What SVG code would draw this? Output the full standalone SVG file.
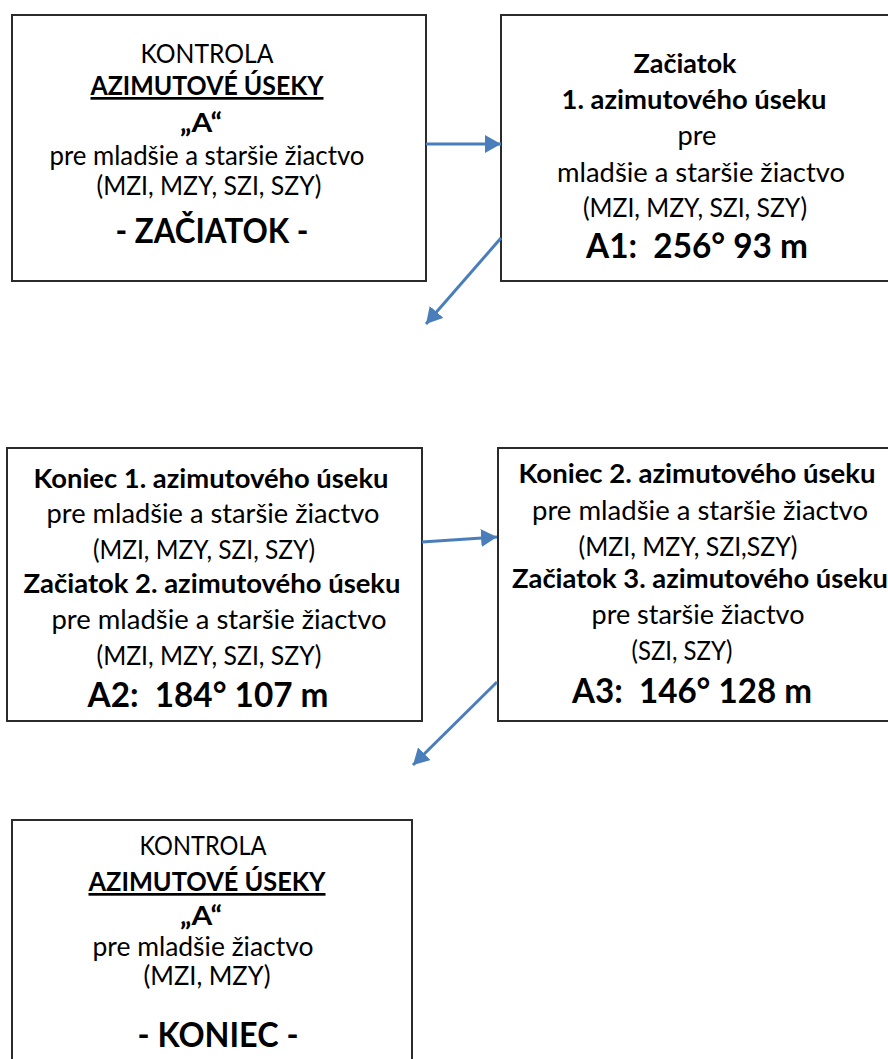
<svg xmlns="http://www.w3.org/2000/svg" width="888" height="1059" viewBox="0 0 888 1059">
<style>
.box{fill:#fff;stroke:#2b2b2b;stroke-width:2}
text{font-family:Lato,"Open Sans","Liberation Sans",sans-serif;fill:#000;text-anchor:middle}
.r{font-size:26.5px}
.b{font-size:27px;font-weight:bold}
.big{font-size:34px;font-weight:bold}
.u{text-decoration:underline}
.conn{stroke:#4a7ebb;stroke-width:3;fill:none;marker-end:url(#ah)}
</style>
<defs>
<marker id="ah" markerUnits="userSpaceOnUse" markerWidth="17" markerHeight="18" refX="16" refY="9" orient="auto">
<path d="M0,0 L16,9 L0,18 Z" fill="#4a7ebb"/>
</marker>
</defs>
<rect width="888" height="1059" fill="#fff"/>
<g id="n1">
<rect class="box" x="12" y="15" width="414" height="266"/>
<text class="r" x="207" y="63" textLength="133" lengthAdjust="spacingAndGlyphs">KONTROLA</text>
<text class="b u" x="207" y="95" textLength="233" lengthAdjust="spacingAndGlyphs">AZIMUTOVÉ ÚSEKY</text>
<text class="b" x="201" y="132" textLength="42" lengthAdjust="spacingAndGlyphs">„A“</text>
<text class="r" x="207" y="165" textLength="315" lengthAdjust="spacingAndGlyphs">pre mladšie a staršie žiactvo</text>
<text class="r" x="209" y="195" textLength="225" lengthAdjust="spacingAndGlyphs">(MZI, MZY, SZI, SZY)</text>
<text class="big" x="212" y="243" textLength="193" lengthAdjust="spacingAndGlyphs">- ZAČIATOK -</text>
</g>
<g id="n2">
<rect class="box" x="501" y="15" width="400" height="266"/>
<text class="b" x="685" y="73" textLength="103" lengthAdjust="spacingAndGlyphs">Začiatok</text>
<text class="b" x="694" y="109" textLength="265" lengthAdjust="spacingAndGlyphs">1. azimutového úseku</text>
<text class="r" x="697" y="145" textLength="39" lengthAdjust="spacingAndGlyphs">pre</text>
<text class="r" x="701" y="182" textLength="288" lengthAdjust="spacingAndGlyphs">mladšie a staršie žiactvo</text>
<text class="r" x="695" y="217" textLength="224" lengthAdjust="spacingAndGlyphs">(MZI, MZY, SZI, SZY)</text>
<text class="big" x="697" y="258" xml:space="preserve" textLength="222" lengthAdjust="spacingAndGlyphs">A1:  256° 93 m</text>
</g>
<g id="n3">
<rect class="box" x="7" y="448" width="415" height="273"/>
<text class="b" x="211" y="488" textLength="355" lengthAdjust="spacingAndGlyphs">Koniec 1. azimutového úseku</text>
<text class="r" x="213" y="523" textLength="333" lengthAdjust="spacingAndGlyphs">pre mladšie a staršie žiactvo</text>
<text class="r" x="204" y="559" textLength="222" lengthAdjust="spacingAndGlyphs">(MZI, MZY, SZI, SZY)</text>
<text class="b" x="212" y="593" textLength="377" lengthAdjust="spacingAndGlyphs">Začiatok 2. azimutového úseku</text>
<text class="r" x="219" y="629" textLength="335" lengthAdjust="spacingAndGlyphs">pre mladšie a staršie žiactvo</text>
<text class="r" x="209" y="665" textLength="225" lengthAdjust="spacingAndGlyphs">(MZI, MZY, SZI, SZY)</text>
<text class="big" x="208" y="707" xml:space="preserve" textLength="241" lengthAdjust="spacingAndGlyphs">A2:  184° 107 m</text>
</g>
<g id="n4">
<rect class="box" x="498" y="448" width="410" height="273"/>
<text class="b" x="697" y="483" textLength="357" lengthAdjust="spacingAndGlyphs">Koniec 2. azimutového úseku</text>
<text class="r" x="700" y="520" textLength="336" lengthAdjust="spacingAndGlyphs">pre mladšie a staršie žiactvo</text>
<text class="r" x="688" y="556" textLength="219" lengthAdjust="spacingAndGlyphs">(MZI, MZY, SZI,SZY)</text>
<text class="b" x="700" y="588" textLength="376" lengthAdjust="spacingAndGlyphs">Začiatok 3. azimutového úseku</text>
<text class="r" x="698" y="624" textLength="213" lengthAdjust="spacingAndGlyphs">pre staršie žiactvo</text>
<text class="r" x="682" y="660" textLength="101" lengthAdjust="spacingAndGlyphs">(SZI, SZY)</text>
<text class="big" x="692" y="703" xml:space="preserve" textLength="240" lengthAdjust="spacingAndGlyphs">A3:  146° 128 m</text>
</g>
<g id="n5">
<rect class="box" x="12" y="820" width="400" height="260"/>
<text class="r" x="203" y="855" textLength="127" lengthAdjust="spacingAndGlyphs">KONTROLA</text>
<text class="b u" x="207" y="891" textLength="237" lengthAdjust="spacingAndGlyphs">AZIMUTOVÉ ÚSEKY</text>
<text class="b" x="201" y="925" textLength="42" lengthAdjust="spacingAndGlyphs">„A“</text>
<text class="r" x="203" y="956" textLength="221" lengthAdjust="spacingAndGlyphs">pre mladšie žiactvo</text>
<text class="r" x="207" y="985" textLength="127" lengthAdjust="spacingAndGlyphs">(MZI, MZY)</text>
<text class="big" x="218" y="1047" textLength="161" lengthAdjust="spacingAndGlyphs">- KONIEC -</text>
</g>
<g id="connectors">
<line class="conn" x1="426" y1="144" x2="501" y2="144"/>
<line class="conn" x1="501" y1="238" x2="426" y2="324"/>
<line class="conn" x1="422" y1="542" x2="497" y2="537"/>
<line class="conn" x1="497" y1="682" x2="413" y2="765"/>
</g>
</svg>
